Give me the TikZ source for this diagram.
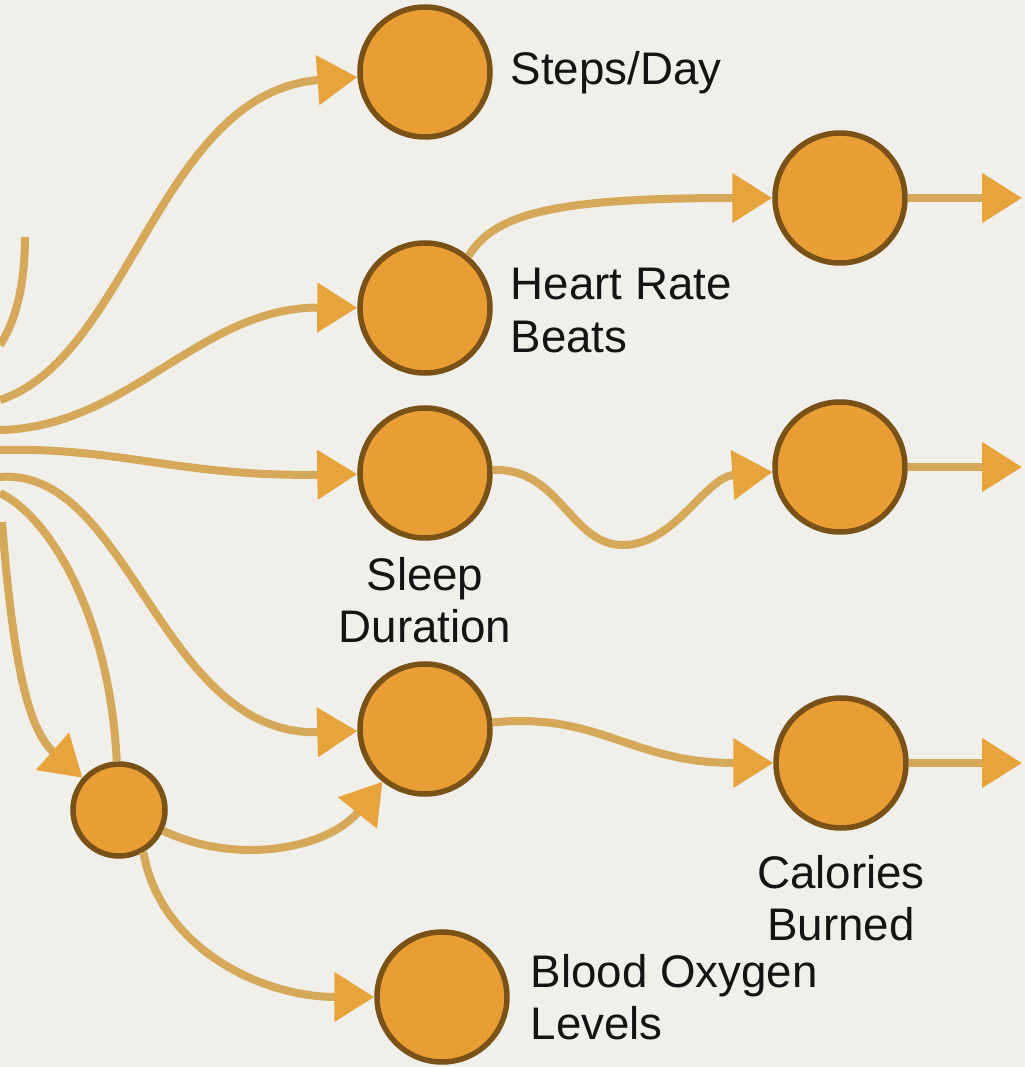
\documentclass[tikz,border=0pt]{standalone}
\usepackage{fontspec}
\setmainfont{Liberation Sans}
\usetikzlibrary{arrows.meta}
\definecolor{ftBg}    {RGB}{240,239,234}
\definecolor{ftOrange}{RGB}{232,158, 52}
\definecolor{ftBrown} {RGB}{122, 82, 24}
\definecolor{ftTan}   {RGB}{214,168, 90}
\definecolor{ftTip}   {RGB}{232,164, 60}
\definecolor{ftText}  {RGB}{ 20, 20, 20}

\begin{document}
\begin{tikzpicture}[
  >={Triangle[length=4mm,width=4.8mm,color=ftTip]},
  every node/.style={font=\fontsize{13}{14.8}\selectfont},
  metric/.style={circle,draw=ftBrown,fill=ftOrange,line width=0.55mm,
                 minimum size=1.30cm,inner sep=0pt},
  hub/.style   ={metric,minimum size=0.92cm},
  flow/.style  ={ftTan,line width=0.8mm},
  lbl/.style   ={inner sep=0pt,text=ftText}
]
\useasboundingbox[fill=ftBg] (0,0) rectangle (10.25,10.67);

% metric nodes, first column
\node[metric] (steps) at (4.25,9.95) {};
\node[metric] (hr)    at (4.25,7.59) {};
\node[metric] (slp)   at (4.25,5.94) {};
\node[metric] (cal)   at (4.25,3.38) {};
\node[metric] (oxy)   at (4.42,0.70) {};
\node[hub]    (hub)   at (1.19,2.57) {};
% second column
\node[metric] (hrx)   at (8.40,8.69) {};
\node[metric] (slpx)  at (8.40,6.00) {};
\node[metric] (calx)  at (8.41,3.04) {};

% labels (base = last line)
\node[lbl,anchor=base west] (stepsl) at (5.10,9.82) {Steps/Day};
\node[lbl,anchor=base west,align=left] (hrl) at (5.10,7.15) {Heart Rate\\Beats};
\node[lbl,anchor=base,align=center] (slpl) at (4.25,4.24) {Sleep\\Duration};
\node[lbl,anchor=base,align=center] (call) at (8.41,1.26) {Calories\\Burned};
\node[lbl,anchor=base west,align=left] (oxyl) at (5.30,0.27) {Blood Oxygen\\Levels};

% loose ends at the borders
\coordinate (e1) at (0,6.67);
\coordinate (e2) at (0,6.37);
\coordinate (e3) at (0,6.17);
\coordinate (e4) at (0,5.90);
\coordinate (e5) at (0,5.74);
\coordinate (e6) at (0.02,5.45);
\coordinate (e7) at (0.25,8.30);
\coordinate (e8) at (0,7.22);
\coordinate (hrend)  at (10.22,8.69);
\coordinate (slpend) at (10.22,6.00);
\coordinate (calend) at (10.22,3.04);

% fan from the left
\draw[flow]    (e7) .. controls (0.25,7.8) and (0.15,7.45) .. (e8);
\draw[flow,->] (e1) .. controls (1.3,7.1) and (1.6,9.75) .. (steps);
\draw[flow,->] (e2) .. controls (1.3,6.4) and (2.0,7.6) .. (hr);
\draw[flow,->] (e3) .. controls (1.2,6.2) and (1.8,5.9) .. (slp);
\draw[flow,->] (e4) .. controls (1.3,6.0) and (1.6,3.3) .. (cal);
\draw[flow]    (e5) .. controls (0.5,5.5) and (1.1,4.5) .. (hub);
\draw[flow,->] (e6) .. controls (0.12,4.2) and (0.25,3.4) .. (hub);

% from the hub
\draw[flow,->] (hub) .. controls (2.4,2.0) and (3.3,2.2) .. (cal);
\draw[flow,->] (hub.-60) .. controls (1.6,1.2) and (2.6,0.7) .. (oxy);

% to the second column
\draw[flow,->] (hr.50) .. controls (4.95,8.55) and (5.6,8.69) .. (hrx);
\draw[flow,->] (slp) .. controls (5.6,6.0) and (5.7,5.22) .. (6.23,5.22)
               .. controls (6.75,5.22) and (7.05,5.9) .. (slpx);
\draw[flow,->] (cal) .. controls (6.0,3.55) and (6.3,3.04) .. (calx);

% outputs
\draw[flow,->] (hrx)  -- (hrend);
\draw[flow,->] (slpx) -- (slpend);
\draw[flow,->] (calx) -- (calend);
\end{tikzpicture}
\end{document}
